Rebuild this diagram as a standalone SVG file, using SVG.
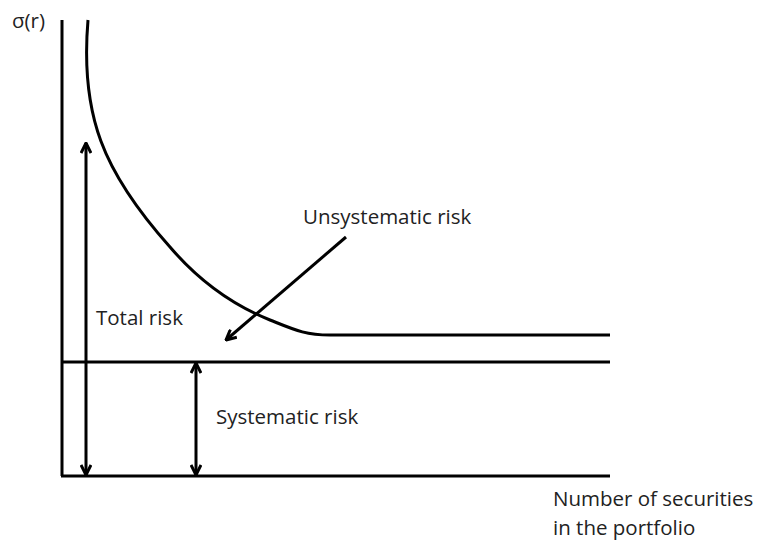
<svg xmlns="http://www.w3.org/2000/svg" width="757" height="540" viewBox="0 0 757 540">
<defs>
<marker id="ah" viewBox="0 0 12 12" refX="11" refY="6" markerWidth="12" markerHeight="12" markerUnits="userSpaceOnUse" orient="auto-start-reverse">
<path d="M1,1 L11,6 L1,11" fill="none" stroke="#000" stroke-width="3"/>
</marker>
</defs>
<style>
.ln{stroke:#000;stroke-width:3;fill:none}
.t{font-family:"Open Sans","Liberation Sans",sans-serif;font-size:20.5px;fill:#222}
</style>
<rect width="757" height="540" fill="#fff"/>
<g id="axes">
<line class="ln" x1="62" y1="20" x2="62" y2="476"/>
<line class="ln" x1="61" y1="476" x2="610" y2="476"/>
<text class="t" x="12" y="28" font-size="19">σ(r)</text>
<text class="t" x="553" y="506">Number of securities</text>
<text class="t" x="553" y="535">in the portfolio</text>
</g>
<g id="systematic-line">
<line class="ln" x1="62" y1="362" x2="610" y2="362"/>
</g>
<g id="curve">
<path class="ln" d="M88,20 C80,115 103,172 170,247 C205,288 240,308 270,320 C295,330 305,335 330,335 L610,335"/>
</g>
<g id="connectors">
<line class="ln" x1="86" y1="143" x2="86" y2="475" marker-start="url(#ah)" marker-end="url(#ah)"/>
<line class="ln" x1="196" y1="363" x2="196" y2="475" marker-start="url(#ah)" marker-end="url(#ah)"/>
<line class="ln" x1="346" y1="237" x2="226" y2="340" marker-end="url(#ah)"/>
</g>
<g id="labels">
<text class="t" x="303" y="224">Unsystematic risk</text>
<text class="t" x="96" y="325">Total risk</text>
<text class="t" x="216" y="424">Systematic risk</text>
</g>
</svg>
